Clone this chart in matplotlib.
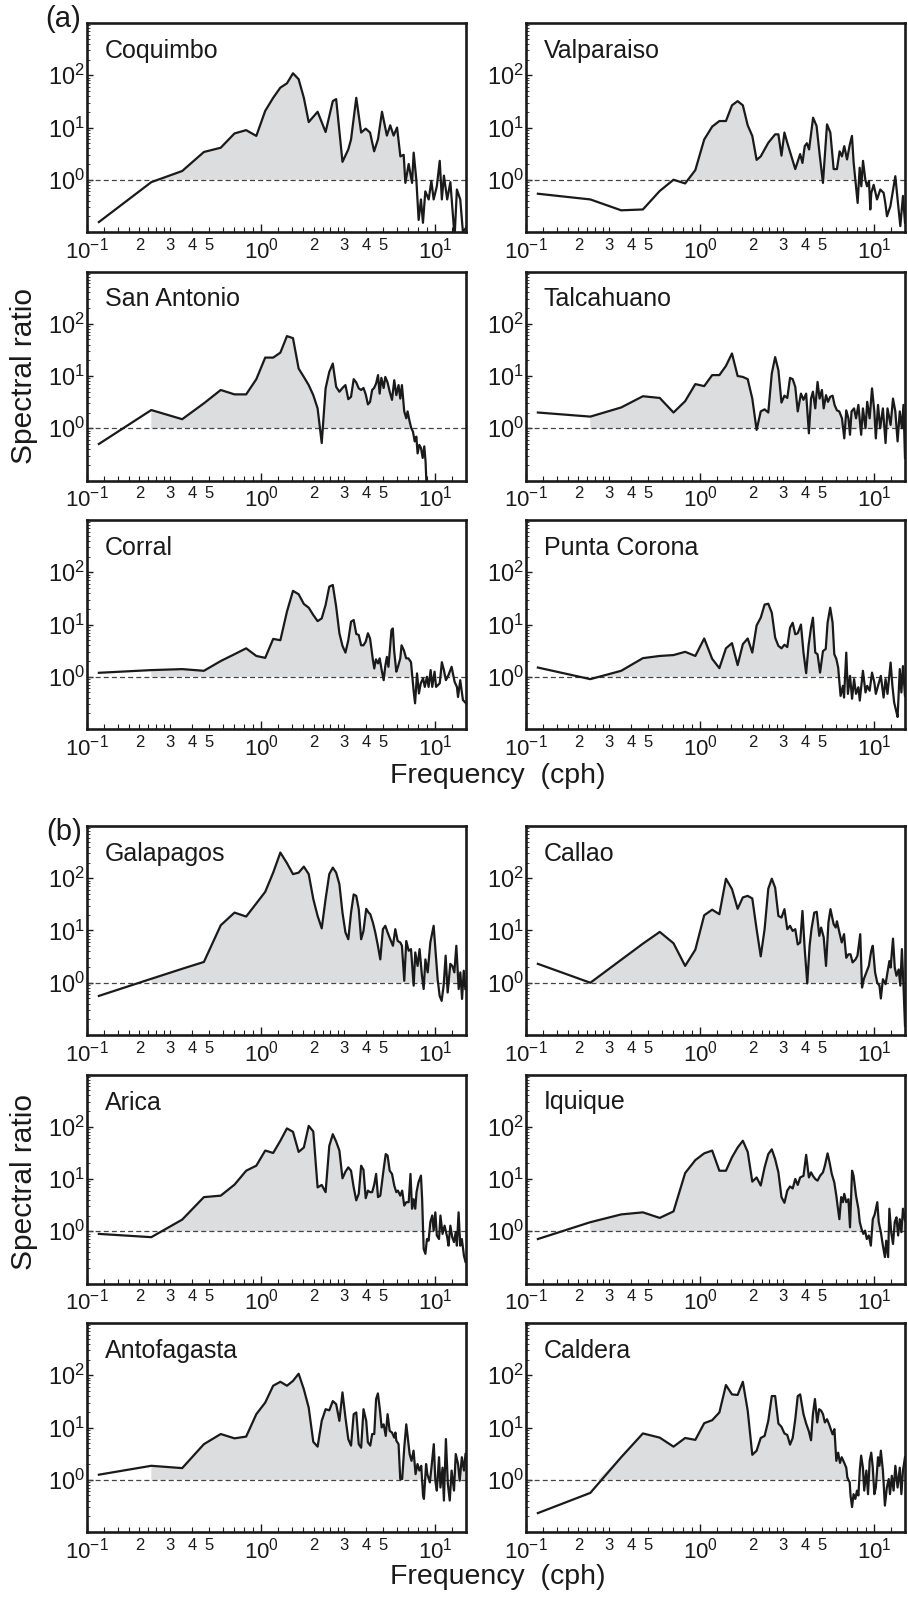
import numpy as np
import matplotlib
matplotlib.use("Agg")
import matplotlib.pyplot as plt
from matplotlib.ticker import LogLocator, NullFormatter

plt.rcParams['font.family'] = ['Liberation Sans', 'DejaVu Sans']
plt.rcParams['mathtext.fontset'] = 'custom'
plt.rcParams['mathtext.rm'] = 'Liberation Sans'
plt.rcParams['mathtext.it'] = 'Liberation Sans:italic'
plt.rcParams['mathtext.bf'] = 'Liberation Sans:bold'

# spectral estimate frequencies (cph), low-frequency part shared by all stations
F_LOW = [0.117, 0.234, 0.352, 0.469, 0.586, 0.703, 0.820, 0.938, 1.055, 1.172,
         1.289, 1.406, 1.523, 1.641, 1.758, 1.875, 1.992, 2.109, 2.227, 2.344,
         2.461, 2.578, 2.695, 2.813, 2.930, 3.047, 3.164, 3.281, 3.398, 3.516,
         3.633, 3.750, 3.867, 3.984, 4.102, 4.219, 4.336, 4.453, 4.570, 4.688]

# ---- (a) ----
coquimbo_f = [0.117, 0.234, 0.352, 0.469, 0.586, 0.703, 0.820, 0.938, 1.055, 1.172,
              1.289, 1.406, 1.523, 1.641, 1.758, 1.875, 2.109, 2.344, 2.578, 2.695,
              2.930, 3.164, 3.281, 3.516, 3.750, 3.984, 4.219, 4.453, 4.688, 4.94,
              5.27, 5.51, 5.76, 6.03, 6.30, 6.58, 6.73, 7.03, 7.35, 7.51,
              7.78, 8.02, 8.27, 8.49, 8.76, 9.16, 9.49, 9.78, 10.2, 10.6,
              10.9, 11.2, 11.7, 12.2, 12.9, 13.3, 13.9, 14.4, 15.0]
coquimbo_r = [0.155, 0.90, 1.47, 3.4, 4.1, 7.7, 8.9, 6.9, 20.8, 37,
              58, 70, 109, 84, 37, 12.7, 20, 8.2, 32, 35,
              2.2, 3.8, 5.9, 37, 8, 9.5, 8, 3.5, 6, 20,
              7, 11, 7, 10, 2.8, 3, 0.87, 2.0, 0.87, 3.3,
              1.0, 0.17, 0.42, 0.15, 0.6, 0.42, 0.95, 0.42, 0.75, 2.3,
              0.42, 1.2, 0.42, 0.9, 0.08, 0.65, 0.42, 0.1, 0.12]

valparaiso_f = [0.117, 0.234, 0.352, 0.469, 0.586, 0.703, 0.820, 0.938, 1.055, 1.172,
                1.289, 1.406, 1.523, 1.641, 1.758, 1.875, 1.992, 2.109, 2.227, 2.461,
                2.695, 2.813, 2.930, 3.047, 3.164, 3.516, 3.750, 3.867, 3.984, 4.10,
                4.22, 4.45, 4.66, 4.85, 5.07, 5.35, 5.59, 5.84, 6.10, 6.32,
                6.52, 6.72, 6.97, 7.22, 7.44, 7.61, 7.78, 8.02, 8.24, 8.42,
                8.61, 8.88, 9.08, 9.32, 9.48, 9.61, 9.91, 10.36, 10.82, 11.31,
                11.56, 11.82, 12.36, 13.2, 13.6, 14.1, 14.6, 15.0]
valparaiso_r = [0.54, 0.42, 0.26, 0.27, 0.61, 1.0, 0.85, 1.53, 5.9, 10.4,
                13.3, 13.3, 26.6, 32, 26.6, 11, 6.9, 2.4, 2.8, 5.1,
                7.4, 7.4, 2.9, 8, 5.1, 1.6, 3.1, 2.1, 4.4, 5,
                3.8, 15.4, 10.7, 3.1, 0.87, 11.5, 8, 1.6, 1.6, 3.5,
                2.8, 4.4, 2.45, 4.6, 6.9, 2.1, 1.0, 0.36, 1.7, 0.75,
                2.3, 1.0, 0.75, 0.94, 0.27, 0.56, 0.8, 0.42, 0.65, 0.56,
                0.36, 0.2, 0.31, 1.17, 0.42, 0.13, 0.49, 0.15]

san_antonio_f = F_LOW[:40] + [4.79, 4.90, 5.05, 5.16, 5.32, 5.47, 5.64, 5.81, 5.97, 6.15,
                              6.29, 6.43, 6.63, 6.81, 6.93, 7.12, 7.28, 7.44, 7.61, 7.78,
                              7.91, 8.09, 8.27, 8.46, 8.64, 8.79, 8.95]
san_antonio_r = [0.50, 2.23, 1.49, 3.0, 5.4, 4.45, 4.45, 8.7, 22.5, 22.5,
                 28, 58, 53, 13.9, 9.6, 6.7, 4.3, 2.4, 0.52, 5.8,
                 12, 17.3, 6.2, 5.0, 5.9, 6.7, 3.6, 4.0, 8.7, 7.5,
                 5.8, 5.4, 5.9, 4.45, 2.86, 3.2, 5.4, 5.9, 7.2, 10.4,
                 4.6, 9.2, 5.9, 9.6, 7.5, 5.0, 3.5, 8.3, 4.3, 6.7,
                 3.7, 6.7, 2.1, 1.55, 2.1, 1.34, 1.0, 0.86, 0.56, 0.69,
                 0.33, 0.48, 0.42, 0.27, 0.45, 0.23, 0.05]

talcahuano_f = F_LOW[:31] + [3.79, 3.92, 4.06, 4.21, 4.33, 4.44, 4.58, 4.72, 4.85,
                             5.00, 5.12, 5.28, 5.42, 5.58, 5.76, 5.91, 6.10, 6.29, 6.52,
                             6.72, 6.9, 7.1, 7.25, 7.4, 7.65, 7.85, 8.1, 8.4, 8.6,
                             8.9, 9.1, 9.4, 9.7, 10.0, 10.2, 10.5, 10.8, 11.2, 11.6,
                             11.9, 12.4, 12.8, 13.2, 13.6, 14.0, 14.4, 14.7, 15.0]
talcahuano_r = [2.0, 1.67, 2.5, 4.1, 3.8, 2.0, 3.3, 7.0, 6.4, 10.4,
                10.4, 15.6, 27, 10, 9.6, 8.7, 3.7, 0.93, 2.1, 2.3,
                2.0, 11.2, 23, 12.9, 3.1, 4.2, 3.8, 9.2, 8.7, 6.2,
                2.1, 4.6, 3.5, 4.6, 0.8, 3.7, 5.0, 2.4, 7.7, 3.7,
                5.4, 2.4, 4.3, 3.2, 4.0, 4.2, 2.8, 2.2, 2.1, 1.55,
                0.64, 2.2, 1.55, 0.75, 2.1, 2.4, 1.55, 2.8, 0.75, 2.4,
                1.0, 3.2, 1.55, 5.8, 2.1, 0.64, 2.8, 1.0, 2.4, 0.52,
                2.4, 1.16, 3.7, 2.1, 0.56, 2.1, 1.0, 2.8, 0.27]

corral_f = F_LOW[:36] + [4.38, 4.46, 4.56, 4.69,
                         4.79, 4.92, 5.05, 5.16, 5.27, 5.38, 5.49, 5.6, 5.7, 5.8,
                         5.97, 6.1, 6.29, 6.4, 6.6, 6.8, 7.0, 7.25, 7.5, 7.65,
                         7.85, 8.05, 8.25, 8.5, 8.7, 8.95, 9.15, 9.4, 9.6, 9.9,
                         10.1, 10.6, 10.9, 11.2, 11.5, 11.9, 12.4, 12.9, 13.3, 13.5,
                         13.9, 14.4, 15.0]
corral_r = [1.19, 1.34, 1.40, 1.30, 2.0, 2.7, 3.5, 2.5, 2.3, 5.3,
            5.0, 17.6, 44, 38, 24.7, 21, 15.2, 11.6, 13.1, 23.7,
            53, 57, 22, 6.8, 3.9, 2.9, 5.0, 11.3, 12.2, 6.6,
            6.3, 4.0, 4.0, 4.7, 6.8, 5.4, 2.1, 1.44, 2.15, 1.8,
            2.25, 1.34, 0.86, 1.6, 2.4, 1.55, 3.5, 7.8, 8.4, 3.2,
            1.25, 1.55, 2.25, 4.0, 3.2, 2.25, 2.25, 1.9, 0.55, 0.31,
            1.16, 0.48, 0.75, 0.93, 0.64, 1.0, 0.64, 1.34, 0.64, 1.25,
            0.64, 0.75, 1.9, 1.34, 0.86, 1.08, 1.55, 0.8, 0.64, 0.41,
            0.86, 0.36, 0.31]

punta_corona_f = F_LOW[:31] + [3.79, 3.92, 4.06, 4.19, 4.33, 4.44, 4.58, 4.72, 4.88,
                               5.07, 5.26, 5.39, 5.58, 5.76, 5.89, 6.05, 6.2, 6.4, 6.6,
                               6.7, 6.9, 7.05, 7.25, 7.45, 7.65, 7.85, 8.1, 8.25, 8.6,
                               8.9, 9.1, 9.4, 9.7, 10.0, 10.2, 10.5, 10.9, 11.3, 11.6,
                               11.9, 12.4, 12.7, 13.0, 13.4, 13.6, 14.0, 14.3, 14.6, 15.0]
punta_corona_r = [1.5, 0.90, 1.3, 2.27, 2.5, 2.6, 3.0, 2.5, 5.4, 2.2,
                  1.46, 3.5, 4.4, 1.67, 4.2, 5.4, 2.9, 9.6, 13.5, 24,
                  25, 16.8, 5.6, 3.9, 3.5, 4.1, 3.7, 8.7, 10.8, 6.5,
                  6.8, 10, 2.9, 1.17, 3.9, 8.7, 13.5, 2.9, 2.7, 1.2,
                  3.1, 3.4, 10.8, 21, 10.8, 2.7, 2.2, 1.5, 0.43, 0.67,
                  0.4, 2.9, 0.47, 1.04, 0.38, 0.9, 0.47, 0.63, 0.35, 1.3,
                  0.5, 0.67, 0.54, 1.2, 0.78, 0.47, 0.67, 1.04, 0.4, 0.9,
                  0.47, 1.87, 0.67, 0.32, 0.21, 0.17, 1.4, 0.5, 1.6, 0.43]

# ---- (b) ----
galapagos_f = F_LOW[:33] + [4.01, 4.14, 4.23, 4.38, 4.52, 4.68, 4.83,
                            5.00, 5.16, 5.32, 5.51, 5.71, 5.89, 6.08, 6.29, 6.43, 6.63,
                            6.81, 7.03, 7.25, 7.51, 7.67, 7.91, 8.12, 8.38, 8.57, 8.77,
                            9.04, 9.36, 9.78, 10.04, 10.31, 10.59, 10.87, 11.16, 11.46, 11.77,
                            12.19, 12.52, 12.86, 13.20, 13.62, 13.92, 14.24, 14.56, 14.87]
galapagos_r = [0.56, 1.19, 1.85, 2.5, 12.6, 22, 18.5, 33, 55, 128,
               310, 195, 120, 128, 167, 120, 40, 19, 11, 40,
               120, 160, 128, 77, 22, 9.2, 6.8, 22, 49, 46,
               25.6, 6.8, 9.8, 26, 22, 20.5, 14.2, 9.2, 5.1, 2.8,
               10.6, 12.3, 9.2, 6.8, 5.1, 10.6, 6.3, 5.9, 5.1, 1.09,
               6.3, 4.1, 4.4, 0.88, 3.8, 2.1, 4.4, 1.36, 0.76, 2.8,
               1.58, 5.9, 12.3, 3.8, 1.17, 0.56, 0.45, 0.88, 3.3, 0.65,
               2.3, 2.1, 1.58, 5.1, 0.76, 1.58, 0.49, 1.7, 0.76]

callao_f = F_LOW[:34] + [4.12, 4.25, 4.36, 4.52, 4.67, 4.83, 4.95, 5.12, 5.28, 5.45,
                         5.6, 5.84, 6.0, 6.1, 6.3, 6.5, 6.7, 6.9, 7.1, 7.3,
                         7.5, 7.8, 8.0, 8.3, 8.5, 8.7, 9.0, 9.3, 9.6, 9.8,
                         10.1, 10.4, 10.7, 10.9, 11.2, 11.6, 11.9, 12.2, 12.4, 12.8,
                         13.1, 13.4, 13.8, 14.1, 14.4, 14.7, 15.0]
callao_r = [2.3, 1.0, 2.75, 5.6, 9.4, 5.7, 2.1, 4.3, 19.6, 25,
            20.5, 98, 62, 26, 43, 46, 41, 10.6, 3.2, 10.6,
            63, 98, 66, 19, 17.7, 25.6, 10.6, 12.3, 9.8, 10.6,
            5.4, 5.9, 23.7, 4.4,
            0.97, 5.1, 10.9, 22, 22.8, 7.9, 11.4, 7.4, 2.1, 14.2,
            25.6, 13.2, 11.4, 15, 9.2, 5.9, 8.5, 3.0, 3.5, 3.5,
            2.45, 2.8, 3.3, 8.5, 0.81, 1.17, 1.58, 2.1, 4.1, 5.1,
            1.58, 1.0, 0.88, 0.5, 1.17, 0.94, 1.58, 2.6, 1.96, 7.0,
            1.96, 1.36, 1.8, 0.88, 4.4, 0.88, 0.15]

arica_f = F_LOW[:40] + [4.83, 4.94, 5.05, 5.19, 5.32, 5.47, 5.64, 5.81, 5.97, 6.1,
                        6.29, 6.45, 6.63, 6.81, 7.03, 7.2, 7.35, 7.5, 7.67, 7.8,
                        8.0, 8.27, 8.4, 8.57, 8.77, 8.95, 9.15, 9.36, 9.6, 9.78,
                        10.0, 10.2, 10.5, 10.7, 11.0, 11.3, 11.7, 11.9, 12.2, 12.5,
                        12.8, 13.1, 13.3, 13.6, 13.9, 14.2, 14.6, 14.9]
arica_r = [0.89, 0.77, 1.67, 4.5, 4.8, 7.8, 14.4, 18, 35, 31.5,
           54, 93, 80, 33, 40, 104, 81, 6.9, 7.7, 5.6,
           43, 72, 52, 35, 10.3, 13.8, 16.7, 14.4, 6.9, 3.9,
           5.2, 18, 15, 4.3, 6, 5.6, 5.6, 7.7, 12.5, 4.5,
           4.8, 8.6, 15.5, 30, 28, 14.4, 12.5, 7.5, 5.6, 6.0,
           4.8, 6.0, 3.1, 3.6, 3.6, 12.5, 2.7, 4.1, 2.7, 5.6,
           8.6, 11.6, 4.1, 0.46, 0.37, 0.71, 0.66, 1.5, 2.0, 1.03,
           2.3, 0.83, 0.71, 2.0, 0.89, 1.28, 0.77, 0.53, 1.28, 0.77,
           0.62, 0.96, 0.53, 2.3, 0.53, 0.71, 0.34, 0.26]

iquique_f = F_LOW[:32] + [3.92, 4.06, 4.21, 4.33, 4.44, 4.58, 4.72, 4.88, 5.07, 5.2,
                          5.39, 5.53, 5.7, 5.89, 6.05, 6.15, 6.3, 6.45, 6.6, 6.72,
                          6.9, 7.1, 7.25, 7.45, 7.6, 7.85, 8.1, 8.25, 8.45, 8.65,
                          8.85, 9.05, 9.3, 9.55, 9.8, 10.05, 10.4, 10.6, 10.9, 11.2,
                          11.5, 11.7, 12.0, 12.2, 12.5, 12.8, 13.1, 13.4, 13.7, 14.0,
                          14.3, 14.6, 15.0]
iquique_r = [0.71, 1.49, 2.1, 2.3, 1.8, 2.4, 13, 23, 31, 35,
             14.4, 14.4, 26, 40, 54, 33, 8.9, 10.7, 7.5, 16.7,
             30, 37, 24, 13.4, 4.5, 3.5, 6.0, 7.2, 6.6, 10,
             7.7, 10.7,
             11.5, 29, 10.7, 13.4, 11.5, 10, 9.3, 11.5, 13.4, 18,
             31, 21, 12.4, 8.6, 4.8, 3.1, 1.7, 4.5, 3.6, 5.2,
             3.6, 4.1, 1.19, 14.4, 11.5, 4.8, 2.7, 1.5, 1.1, 0.89,
             1.03, 0.71, 0.83, 0.53, 1.7, 2.1, 3.6, 1.5, 0.96, 0.53,
             0.32, 0.66, 0.32, 2.7, 0.96, 0.57, 1.5, 1.85, 0.83, 1.7,
             0.96, 2.7, 1.6]

antofagasta_f = F_LOW[:32] + [3.87, 4.01, 4.1, 4.23, 4.34, 4.46, 4.57, 4.68, 4.79, 4.92,
                              5.05, 5.19, 5.32, 5.47, 5.64, 5.81, 5.9, 5.97, 6.15, 6.29,
                              6.45, 6.63, 6.81, 6.93, 7.12, 7.3, 7.5, 7.7, 7.9, 8.1,
                              8.3, 8.5, 8.6, 8.85, 9.0, 9.3, 9.5, 9.8, 10.0, 10.2,
                              10.5, 10.7, 11.0, 11.2, 11.5, 11.8, 12.1, 12.4, 12.8, 13.1,
                              13.5, 13.8, 14.2, 14.6, 14.9]
antofagasta_r = [1.25, 1.85, 1.67, 4.8, 7.5, 6.2, 6.7, 18, 30, 63,
                 75, 63, 78, 107, 54, 24, 5.3, 4.3, 13.4, 22.4,
                 21.3, 32, 28, 13.4, 47, 15.5, 6.0, 4.5, 18, 19.4,
                 4.8, 4.1,
                 22.4, 13.4, 5.2, 4.5, 7.5, 7.5, 35, 45, 24, 10,
                 11.5, 6.9, 18, 8.6, 8.0, 6.4, 8.0, 5.6, 4.8, 1.03,
                 1.03, 4.1, 11.5, 6.9, 3.1, 2.3, 3.6, 1.28, 2.0, 1.5,
                 1.85, 0.5, 0.43, 2.0, 1.28, 0.89, 1.7, 4.8, 0.96, 0.62,
                 2.7, 0.71, 1.7, 0.4, 6.0, 0.83, 0.4, 1.5, 0.62, 3.1,
                 2.0, 0.96, 2.7, 1.5, 3.1]

caldera_f = F_LOW[:32] + [3.92, 4.06, 4.21, 4.33, 4.44, 4.56, 4.7, 4.82, 4.95, 5.07,
                          5.2, 5.35, 5.5, 5.62, 5.76, 5.9, 6.05, 6.2, 6.35, 6.5,
                          6.72, 6.9, 7.0, 7.22, 7.3, 7.45, 7.6, 7.78, 7.95, 8.1,
                          8.25, 8.4, 8.6, 8.75, 9.0, 9.2, 9.4, 9.6, 9.8, 10.0,
                          10.2, 10.5, 10.7, 10.9, 11.2, 11.5, 11.8, 12.1, 12.3, 12.6,
                          12.9, 13.2, 13.6, 14.0, 14.3, 14.6, 15.0]
caldera_r = [0.23, 0.56, 2.7, 7.7, 6.4, 4.3, 6.3, 5.8, 12.1, 13.8,
             19.4, 65, 43, 42, 75, 21, 3.0, 3.6, 6.3, 6.9,
             13.4, 40, 40, 11.9, 10.3, 7.7, 7.2, 4.7, 6.3, 14.4,
             40, 43,
             18, 11.9, 8.4, 5.7, 18, 35, 12.5, 22.4, 21, 18,
             12.5, 14.4, 11.5, 9.3, 7.4, 9.3, 2.3, 3.3, 2.1, 2.7,
             2.1, 1.7, 1.1, 0.89, 0.5, 0.3, 0.53, 0.43, 0.62, 0.5,
             1.5, 2.9, 1.7, 0.62, 1.5, 0.53, 2.3, 3.3, 1.7, 0.53,
             0.71, 2.7, 1.85, 3.6, 1.5, 0.32, 0.71, 1.03, 0.53, 1.19,
             0.62, 1.85, 0.71, 1.7, 0.53, 1.5, 2.7]

# panel order: row by row, left then right
panels = [
    ("Coquimbo", coquimbo_f, coquimbo_r), ("Valparaiso", valparaiso_f, valparaiso_r),
    ("San Antonio", san_antonio_f, san_antonio_r), ("Talcahuano", talcahuano_f, talcahuano_r),
    ("Corral", corral_f, corral_r), ("Punta Corona", punta_corona_f, punta_corona_r),
    ("Galapagos", galapagos_f, galapagos_r), ("Callao", callao_f, callao_r),
    ("Arica", arica_f, arica_r), ("Iquique", iquique_f, iquique_r),
    ("Antofagasta", antofagasta_f, antofagasta_r), ("Caldera", caldera_f, caldera_r),
]

x_major = [0.1, 1, 10]
x_major_labels = [r'$\mathregular{10^{-1}}$', r'$\mathregular{10^{0}}$', r'$\mathregular{10^{1}}$']
x_minor = [0.125, 0.15, 0.175, 0.2, 0.225, 0.25, 0.275, 0.3, 0.4, 0.5, 0.6, 0.7, 0.8, 0.9,
           1.25, 1.5, 1.75, 2, 2.25, 2.5, 2.75, 3, 4, 5, 6, 7, 8, 9, 12.5]
x_minor_labels = ['', '', '', '2', '', '', '', '3', '4', '5', '', '', '', '',
                  '', '', '', '2', '', '', '', '3', '4', '5', '', '', '', '', '']
y_major = [1, 10, 100]
y_major_labels = [r'$\mathregular{10^{0}}$', r'$\mathregular{10^{1}}$', r'$\mathregular{10^{2}}$']

W, H = 908, 1598
col_x = [87, 526]
row_top = [23, 271.5, 520, 826, 1074.5, 1323]
ax_w, ax_h = 379, 209
ink = '#1a1a1a'

fig = plt.figure(figsize=(W / 100, H / 100), dpi=100)

for i, (name, f, r) in enumerate(panels):
    row, col = divmod(i, 2)
    x0 = col_x[col]
    y0 = row_top[row]
    ax = fig.add_axes([x0 / W, 1 - (y0 + ax_h) / H, ax_w / W, ax_h / H])
    f = np.array(f)
    r = np.array(r)

    ax.fill_between(f[1:], 1, r[1:], where=r[1:] >= 1, interpolate=True,
                    color='#dcdddf', lw=0, zorder=1)
    ax.axhline(1, color='#444444', lw=0.9, ls=(0, (4, 2.5)), zorder=2)
    ax.plot(f, r, color=ink, lw=1.6, zorder=3)

    ax.set_xscale('log')
    ax.set_yscale('log')
    ax.set_xlim(0.1, 15)
    ax.set_ylim(0.1, 1000)

    ax.set_xticks(x_major, labels=x_major_labels)
    ax.set_xticks(x_minor, labels=x_minor_labels, minor=True)
    ax.set_yticks(y_major, labels=y_major_labels)
    ax.yaxis.set_minor_locator(LogLocator(base=10, subs=np.arange(2, 10)))
    ax.yaxis.set_minor_formatter(NullFormatter())

    ax.tick_params(which='both', direction='in', top=False, right=False, colors=ink)
    ax.tick_params(axis='x', which='major', length=6, width=1, labelsize=16, pad=4)
    ax.tick_params(axis='x', which='minor', length=3.5, width=0.8, labelsize=12, pad=4)
    ax.tick_params(axis='y', which='major', length=4, width=1, labelsize=17, pad=1.5)
    ax.tick_params(axis='y', which='minor', length=2.5, width=0.6)

    for sp in ax.spines.values():
        sp.set_linewidth(1.9)
        sp.set_color(ink)

    ax.text(18 / ax_w, 1 - 16 / ax_h, name, transform=ax.transAxes,
            ha='left', va='top', fontsize=18, color=ink)

# panel group letters and shared axis labels
fig.text(81 / W, 1 - 19 / H, '(a)', ha='right', va='center', fontsize=21, color=ink)
fig.text(82 / W, 1 - 832 / H, '(b)', ha='right', va='center', fontsize=21, color=ink)
for yc in (376, 1182):
    fig.text(24 / W, 1 - yc / H, 'Spectral ratio', rotation=90, ha='center', va='center',
             fontsize=21.5, color=ink)
for yc in (776, 1577):
    fig.text(498 / W, 1 - yc / H, 'Frequency  (cph)', ha='center', va='center',
             fontsize=20.5, color=ink)

fig.savefig('out.png', dpi=100, facecolor='white')
